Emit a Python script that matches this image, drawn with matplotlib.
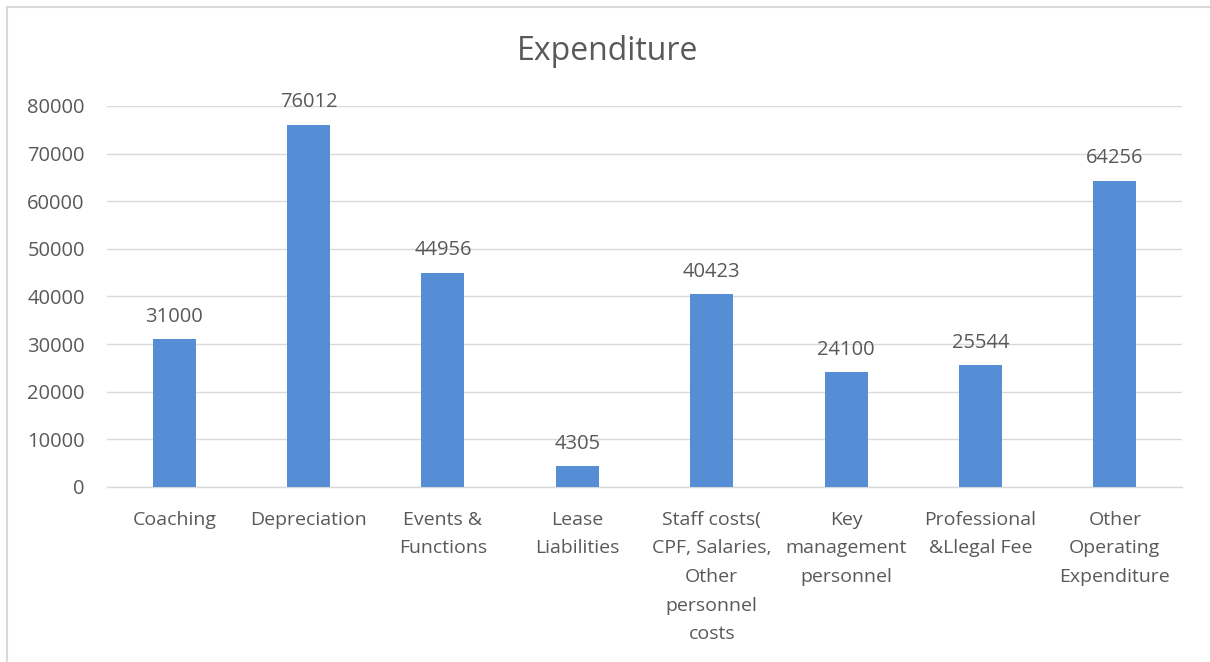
import matplotlib.pyplot as plt
from matplotlib.patches import Rectangle

categories = ["Coaching", "Depreciation", "Events &\nFunctions", "Lease\nLiabilities",
              "Staff costs(\nCPF, Salaries,\nOther\npersonnel\ncosts",
              "Key\nmanagement\npersonnel", "Professional\n&Llegal Fee",
              "Other\nOperating\nExpenditure"]
values = [31000, 76012, 44956, 4305, 40423, 24100, 25544, 64256]
yticks = [0, 10000, 20000, 30000, 40000, 50000, 60000, 70000, 80000]

txt = "#595959"
grid = "#D9D9D9"
bar_color = "#558ED5"

plt.rcParams['font.family'] = ['Open Sans', 'DejaVu Sans']

fig = plt.figure(figsize=(12.1, 6.62), dpi=100)
# chart border
fig.patches.append(Rectangle((7 / 1210, -0.05), 1.1, 1 - 7 / 662 + 0.05, transform=fig.transFigure,
                             fill=False, edgecolor=grid, linewidth=1.5))

ax = fig.add_axes([107 / 1210, (662 - 487) / 662, 1075 / 1210, (487 - 106) / 662])
x = list(range(len(categories)))
bars = ax.bar(x, values, width=0.32, color=bar_color, zorder=3)
for xi, v in zip(x, values):
    ax.annotate(str(v), (xi, v), xytext=(0, 9), textcoords="offset points",
                ha="center", va="bottom", fontsize=14.5, color=txt)

ax.set_xlim(-0.5, len(categories) - 0.5)
ax.set_ylim(0, 80000)
ax.set_yticks(yticks)
ax.set_yticklabels([str(t) for t in yticks], fontsize=14.5, color=txt)
ax.set_xticks(x)
ax.set_xticklabels(categories, fontsize=14, color=txt, linespacing=1.76, va="top")
ax.tick_params(axis="both", length=0)
ax.tick_params(axis="x", pad=17)
ax.tick_params(axis="y", pad=16)
ax.grid(axis="y", color=grid, linewidth=1, zorder=0)
for s in ["top", "right", "left"]:
    ax.spines[s].set_visible(False)
ax.spines["bottom"].set_color(grid)
ax.spines["bottom"].set_linewidth(1)

fig.text(608 / 1210, 1 - 51 / 662, "Expenditure", ha="center", va="center", fontsize=23, color=txt)

fig.savefig("out.png", dpi=100)
